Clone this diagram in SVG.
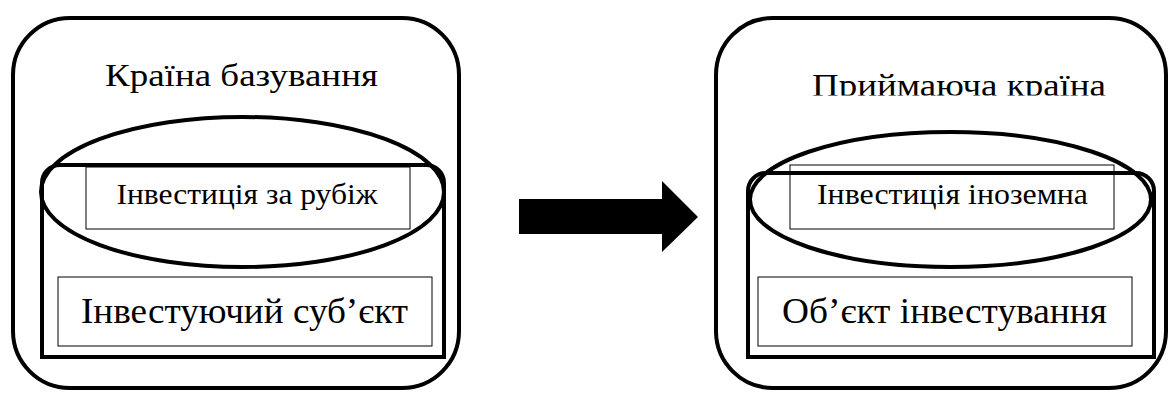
<svg xmlns="http://www.w3.org/2000/svg" width="1168" height="393" viewBox="0 0 1168 393">
<defs>
<style>
.thick{fill:none;stroke:#000;stroke-width:4}
.thin{fill:none;stroke:#000;stroke-width:1}
</style>
<clipPath id="clipTitle"><rect x="716" y="40" width="450" height="55.5"/></clipPath>
</defs>
<rect width="1168" height="393" fill="#fff"/>
<g id="home-country">
<rect class="thick" x="13" y="18" width="446" height="370" rx="57" ry="57"/>
<text x="105" y="86" font-family="Liberation Serif" font-size="32" textLength="273" lengthAdjust="spacingAndGlyphs">Країна базування</text>
</g>
<g id="investing-subject">
<path class="thick" d="M42,357 V183 A18,18 0 0 1 60,165 H426 A18,18 0 0 1 444,183 V357 Z"/>
<rect class="thin" x="58" y="277" width="374" height="69"/>
<text x="81" y="323" font-family="Liberation Serif" font-size="36" textLength="327" lengthAdjust="spacingAndGlyphs">Інвестуючий суб’єкт</text>
</g>
<g id="investment-abroad">
<rect class="thin" x="86" y="167" width="324" height="62"/>
<text x="116.5" y="204" font-family="Liberation Serif" font-size="30" textLength="261" lengthAdjust="spacingAndGlyphs">Інвестиція за рубіж</text>
<ellipse class="thick" cx="242.5" cy="192" rx="201.5" ry="75"/>
</g>
<g id="host-country">
<rect class="thick" x="716" y="18" width="450" height="370" rx="57" ry="57"/>
<text x="812" y="96" font-family="Liberation Serif" font-size="32" textLength="294" lengthAdjust="spacingAndGlyphs" clip-path="url(#clipTitle)">Приймаюча країна</text>
</g>
<g id="investment-object">
<path class="thick" d="M748,357 V191 A18,18 0 0 1 766,173 H1136 A18,18 0 0 1 1154,191 V357 Z"/>
<rect class="thin" x="758" y="277" width="374" height="69"/>
<text x="782" y="323" font-family="Liberation Serif" font-size="36" textLength="325" lengthAdjust="spacingAndGlyphs">Об’єкт інвестування</text>
</g>
<g id="foreign-investment">
<rect class="thin" x="790" y="165" width="324" height="64"/>
<text x="817" y="204" font-family="Liberation Serif" font-size="30" textLength="271" lengthAdjust="spacingAndGlyphs">Інвестиція іноземна</text>
<ellipse class="thick" cx="950.5" cy="199.5" rx="200.5" ry="67.5"/>
</g>
<g id="connectors">
<polygon points="519,199 662,199 662,181 698,217 662,252 662,234 519,234" fill="#000"/>
</g>
</svg>
